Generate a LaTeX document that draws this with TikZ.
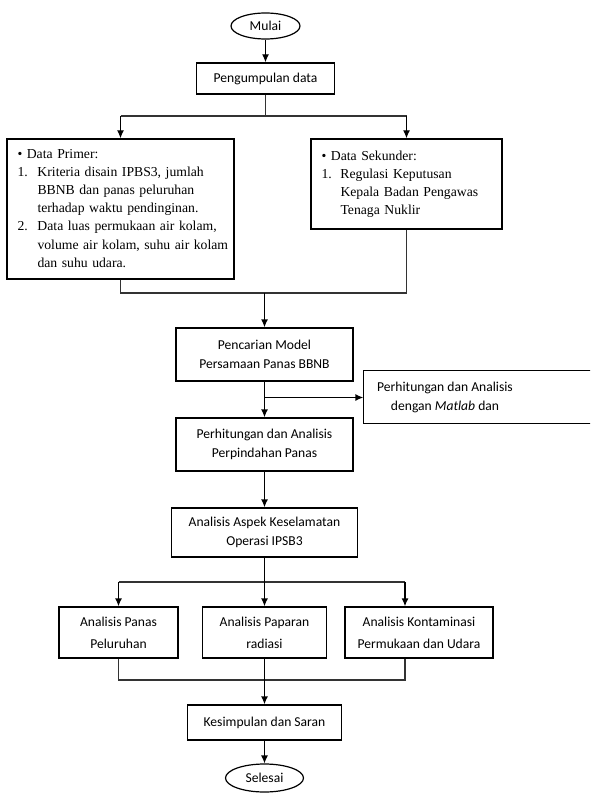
\documentclass[tikz,border=0pt]{standalone}
\usepackage{fontspec}
\setmainfont{Carlito}
\newfontfamily\serif{Liberation Serif}
\usetikzlibrary{shapes.geometric,arrows.meta}

\begin{document}
\begin{tikzpicture}[x=1pt, y=-1pt, >={Latex[length=8pt,width=7pt]},
    kotak/.style={draw, line width=1.3pt, align=center, inner sep=0pt,
      font=\fontsize{13.6}{19.5}\selectfont},
    oval/.style={draw, ellipse, line width=1.2pt, inner sep=0pt,
      font=\fontsize{13.6}{19.5}\selectfont},
    daftar/.style={draw, line width=1.3pt, align=left, inner xsep=10.5pt,
      inner ysep=0pt, font=\serif\fontsize{13.7}{18.2}\selectfont},
    garis/.style={line width=1.1pt, black!80},
    panah/.style={->, line width=1.3pt}]
      \useasboundingbox (0,0) rectangle (590,794);
      \clip (0,0) rectangle (590,794);

      % Mulai
      \node[oval, minimum width=69pt, minimum height=26pt] (mulai)
      at (265.5,26) {Mulai};

      % Pengumpulan data
      \node[kotak, minimum width=138pt, minimum height=31pt] (kumpul)
      at (265.5,78.5) {Pengumpulan data};
      \draw[panah] (mulai.south) -- (kumpul.north);

      % Data primer dan sekunder
      \node[daftar, text width=206pt, minimum height=140pt] (primer)
      at (120.5,209) {\noindent\begin{tabular}{@{}p{20pt}@{}l@{}}
        \multicolumn{2}{@{}l@{}}{\textbullet\ Data Primer:}\\
        1. & Kriteria disain IPBS3, jumlah\\
           & BBNB dan panas peluruhan\\
           & terhadap waktu pendinginan.\\
        2. & Data luas permukaan air kolam,\\
           & volume air kolam, suhu air kolam\\
           & dan suhu udara.
      \end{tabular}};
      \node[daftar, text width=170pt, minimum height=90pt] (sekunder)
      at (406.5,184) {\noindent\begin{tabular}{@{}p{19pt}@{}l@{}}
        \multicolumn{2}{@{}l@{}}{\textbullet\ Data Sekunder:}\\
        1. & Regulasi Keputusan\\
           & Kepala Badan Pengawas\\
           & Tenaga Nuklir
      \end{tabular}};

      % Cabang ke data
      \coordinate (pisah1) at (265.5,116);
      \draw[garis] (kumpul.south) -- (pisah1);
      \draw[garis] (primer.north |- pisah1) -- (sekunder.north |- pisah1);
      \draw[panah] (primer.north |- pisah1) -- (primer.north);
      \draw[panah] (sekunder.north |- pisah1) -- (sekunder.north);

      % Model panas
      \node[kotak, minimum width=177pt, minimum height=53pt] (model)
      at (264.5,354.5) {Pencarian Model\\Persamaan Panas BBNB};
      \coordinate (gabung1) at (264.5,293);
      \draw[garis] (primer.south) -- (primer.south |- gabung1)
      -- (sekunder.south |- gabung1) -- (sekunder.south);
      \draw[panah] (gabung1) -- (model.north);

      % Matlab
      \node[kotak, draw=none, minimum width=162pt, minimum height=53pt] (matlab)
      at (445,397.5) {Perhitungan dan Analisis\\dengan \textit{Matlab} dan};
      \draw[line width=1.3pt] (matlab.north west) rectangle ++(240,53);

      % Perpindahan panas
      \node[kotak, minimum width=177pt, minimum height=53pt] (pindah)
      at (264.5,444.5) {Perhitungan dan Analisis\\Perpindahan Panas};
      \draw[panah] (model.south) -- (pindah.north);
      \draw[panah] (model.south |- matlab.west) -- (matlab.west);

      % Aspek keselamatan
      \node[kotak, minimum width=186pt, minimum height=49pt] (aspek)
      at (264.5,532.5) {Analisis Aspek Keselamatan\\Operasi IPSB3};
      \draw[panah] (pindah.south) -- (aspek.north);

      % Tiga analisis
      \node[kotak, minimum width=119pt, minimum height=51pt,
      font=\fontsize{13.6}{22}\selectfont] (panas)
      at (118.5,632.5) {Analisis Panas\\Peluruhan};
      \node[kotak, minimum width=124pt, minimum height=51pt,
      font=\fontsize{13.6}{22}\selectfont] (paparan)
      at (264.5,632.5) {Analisis Paparan\\radiasi};
      \node[kotak, minimum width=148pt, minimum height=51pt,
      font=\fontsize{13.6}{22}\selectfont] (kontam)
      at (419,632.5) {Analisis Kontaminasi\\Permukaan dan Udara};

      \coordinate (pisah2) at (264.5,582);
      \coordinate (kanan) at (405,582);
      \draw[garis] (panas.north |- pisah2) -- (kanan);
      \draw[panah] (aspek.south) -- (paparan.north);
      \draw[panah] (panas.north |- pisah2) -- (panas.north);
      \draw[panah] (kanan) -- (kanan |- kontam.north);

      % Kesimpulan
      \node[kotak, minimum width=154pt, minimum height=35pt] (simpul)
      at (264.5,722.5) {Kesimpulan dan Saran};
      \coordinate (gabung2) at (264.5,680);
      \draw[garis] (panas.south) -- (panas.south |- gabung2)
      -- (kanan |- gabung2) -- (kanan |- kontam.south);
      \draw[panah] (paparan.south) -- (simpul.north);

      % Selesai
      \node[oval, minimum width=78pt, minimum height=28pt] (selesai)
      at (264.5,778) {Selesai};
      \draw[panah] (simpul.south) -- (selesai.north);
\end{tikzpicture}
\end{document}
